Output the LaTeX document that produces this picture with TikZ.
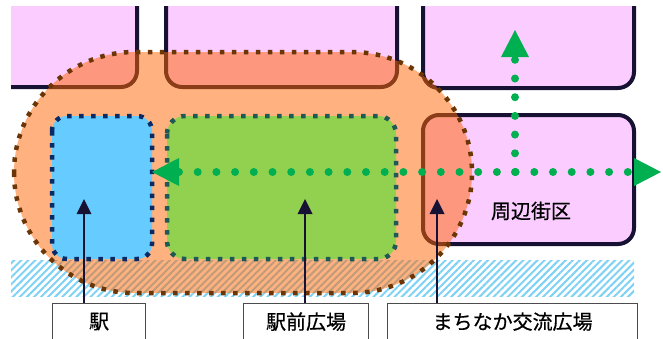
\documentclass[tikz,border=0pt]{standalone}
\usepackage{fontspec}
\newfontfamily\jpfont[FakeBold=0.6]{Noto Sans CJK JP}
\usetikzlibrary{arrows.meta,patterns.meta}
\definecolor{blockpink}{HTML}{FBCCFF}
\definecolor{blockline}{HTML}{171233}
\definecolor{wideorange}{HTML}{FF6600}
\definecolor{widedot}{HTML}{6B3505}
\definecolor{ekiblue}{HTML}{66CCFF}
\definecolor{ekiline}{HTML}{0A2A66}
\definecolor{plazagreen}{HTML}{92D050}
\definecolor{plazaline}{HTML}{1E5A55}
\definecolor{flowgreen}{HTML}{00B050}
\definecolor{hatchblue}{HTML}{7FD2F5}
\tikzset{
  gtip/.tip={Triangle[length=27pt,width=28pt,line width=0pt]},
  ktip/.tip={Triangle[length=15pt,width=15pt,line width=0pt]},
  block/.style={fill=blockpink,draw=blockline,line width=4pt,rounded corners=16pt},
  dotline/.style={line width=4.5pt,dash pattern=on 4.5pt off 7.5pt},
  flow/.style={flowgreen,line width=8pt,line cap=round,dash pattern=on 0pt off 18.7pt},
  pointer/.style={blockline,line width=2.6pt,-ktip},
  lbl/.style={draw=black!70,line width=1.2pt,fill=white,minimum height=36pt,inner sep=0pt,
    anchor=north west,font=\jpfont\fontsize{20}{24}\selectfont}
}
\begin{document}
\begin{tikzpicture}[x=1pt,y=-1pt]
\useasboundingbox (0,0) rectangle (663,338);
\begin{scope}
\clip (11,6) rectangle (663,338);
\draw[block] (-30,-30) rectangle (137,87);
\draw[block] (166,-30) rectangle (397,87);
\draw[block] (423,-30) rectangle (634,88);
\draw[block] (423,115) rectangle (634,244);
\end{scope}
\node[font=\jpfont\fontsize{20}{24}\selectfont] (town) at (531,211) {周辺街区};
% hatched band
\fill[pattern={Lines[angle=45,distance=5pt,line width=2pt]},pattern color=hatchblue] (11,260) rectangle (634,296);
% wide area
\draw[dotline,draw=widedot,fill=wideorange,fill opacity=.5,rounded corners=120.5pt] (14,52) rectangle (472,293);
\draw[dotline,draw=ekiline,fill=ekiblue,rounded corners=15pt] (52,116) rectangle (152,259);
\draw[dotline,draw=plazaline,fill=plazagreen,rounded corners=18pt] (167,116) rectangle (396,259);
% flows
\coordinate (west) at (152,172);
\coordinate (east) at (661,172);
\coordinate (cross) at (515,172);
\coordinate (north) at (515,30);
\draw[flow,gtip-gtip] (west) -- (east);
\draw[flow,-gtip] (cross) -- (north);
% labels
\foreach \n/\x/\w/\ax/\t in {eki/52/93/84/駅,plaza/243/125/305/駅前広場,hub/387/250/437/まちなか交流広場}{
  \node[lbl,minimum width=\w pt] (\n) at (\x,303) {\t};
  \coordinate (\n tip) at (\ax,199);
  \draw[pointer] (\n tip |- \n.north) -- (\n tip);
}
\end{tikzpicture}
\end{document}
